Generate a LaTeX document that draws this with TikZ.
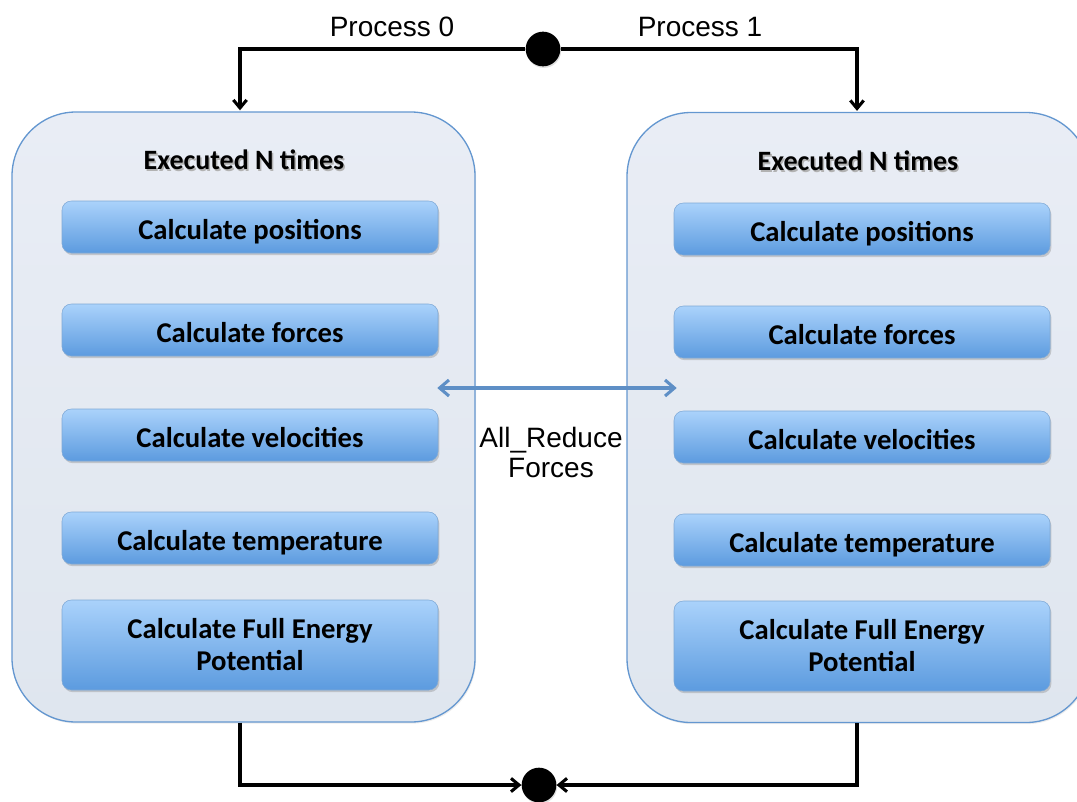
\documentclass[tikz,border=0pt]{standalone}
\usepackage{fontspec}
\usepackage{xcolor}
\setmainfont{Liberation Sans}
\newfontfamily\calfont{Carlito}
\usetikzlibrary{arrows.meta,shadows,calc}

\definecolor{conttop}{HTML}{E9EDF5}
\definecolor{contbot}{HTML}{DFE6EF}
\definecolor{contline}{HTML}{6497D0}
\definecolor{steptop}{HTML}{AAD2FB}
\definecolor{stepbot}{HTML}{5C9BDF}
\definecolor{stepline}{HTML}{7FA9D6}
\definecolor{xline}{HTML}{5E8FC6}

% heading text with a soft grey shadow set underneath it
\newcommand{\shadowtext}[1]{\makebox[0pt][l]{\hspace{1.2pt}\raisebox{-1.6pt}{\textcolor{black!30}{#1}}}#1}

\tikzset{
  container/.style={rectangle, rounded corners=48pt, draw=contline, line width=1pt,
    top color=conttop, bottom color=contbot,
    minimum width=347.25pt, minimum height=457.5pt,
    drop shadow={shadow xshift=0.8pt, shadow yshift=-1.2pt, opacity=0.15}},
  stepbox/.style={rectangle, rounded corners=7pt, draw=stepline, line width=0.4pt,
    top color=steptop, bottom color=stepbot,
    minimum width=282pt, minimum height=39pt, align=center,
    font=\calfont\bfseries\fontsize{21.5}{24}\selectfont,
    drop shadow={shadow xshift=1pt, shadow yshift=-1.6pt, opacity=0.35}},
  oneline/.style={text height=18pt, text depth=0pt},
  headtext/.style={font=\calfont\bfseries\fontsize{21}{24}\selectfont},
  dot/.style={circle, fill=black, inner sep=0pt, minimum size=26pt,
    drop shadow={shadow xshift=0.6pt, shadow yshift=-1.2pt, opacity=0.25}},
  proclabel/.style={font=\fontsize{21}{24}\selectfont},
  conn/.style={draw=black, line width=2.3pt, line join=miter,
    -{Straight Barb[length=6pt,width=10pt]}},
  xarrow/.style={draw=xline, line width=2.3pt,
    {Straight Barb[length=7pt,width=12pt]}-{Straight Barb[length=7pt,width=12pt]}}
}

\begin{document}
\begin{tikzpicture}[x=0.75pt,y=-0.75pt]
\useasboundingbox (0,0) rectangle (1077,801);
\clip (0,0) rectangle (1077,801);

% the two process containers
\node[container] (c0) at (243.5,417) {};
\node[container] (c1) at (858.5,417.5) {};

% container headings
\node[headtext] (h0) at (244,161) {\shadowtext{Executed N times}};
\node[headtext] (h1) at (858,162) {\shadowtext{Executed N times}};

% steps of process 0
\node[stepbox, oneline] (a1) at (250,227) {Calculate positions};
\node[stepbox, oneline] (a2) at (250,330) {Calculate forces};
\node[stepbox, oneline] (a3) at (250,435) {Calculate velocities};
\node[stepbox, oneline] (a4) at (250,538) {Calculate temperature};
\node[stepbox, minimum height=67.5pt] (a5) at (250,645) {Calculate Full Energy\\Potential};

% steps of process 1
\node[stepbox, oneline] (b1) at (862,229) {Calculate positions};
\node[stepbox, oneline] (b2) at (862,332) {Calculate forces};
\node[stepbox, oneline] (b3) at (862,437) {Calculate velocities};
\node[stepbox, oneline] (b4) at (862,540) {Calculate temperature};
\node[stepbox, minimum height=67.5pt] (b5) at (862,646) {Calculate Full Energy\\Potential};

% fork and join points
\node[dot] (fork) at (543,49) {};
\node[dot] (join) at (539,785) {};

% process labels
\node[proclabel] (l0) at (392,27) {Process 0};
\node[proclabel] (l1) at (700,27) {Process 1};

% fork to both processes
\draw[conn] (fork.west) -| ($(c0.north)+(-3.5,-1)$);
\draw[conn] (fork.east) -| ($(c1.north)+(-1.5,-1)$);

% both processes to join
\draw[conn] ($(c0.south)+(-3.5,0)$) |- (join.west);
\draw[conn] ($(c1.south)+(-1.5,0)$) |- (join.east);

% force exchange between processes
\coordinate (xl) at ($(a2.east)!0.5!(a3.east)+(-1,5.5)$);
\coordinate (xr) at ($(b2.west)!0.5!(b3.west)+(3,3.5)$);
\draw[xarrow] (xl) -- (xr);
\node[proclabel, align=center, font=\fontsize{21}{22.5}\selectfont] (xlab) at (551,452) {All\_Reduce\\Forces};

\end{tikzpicture}
\end{document}
